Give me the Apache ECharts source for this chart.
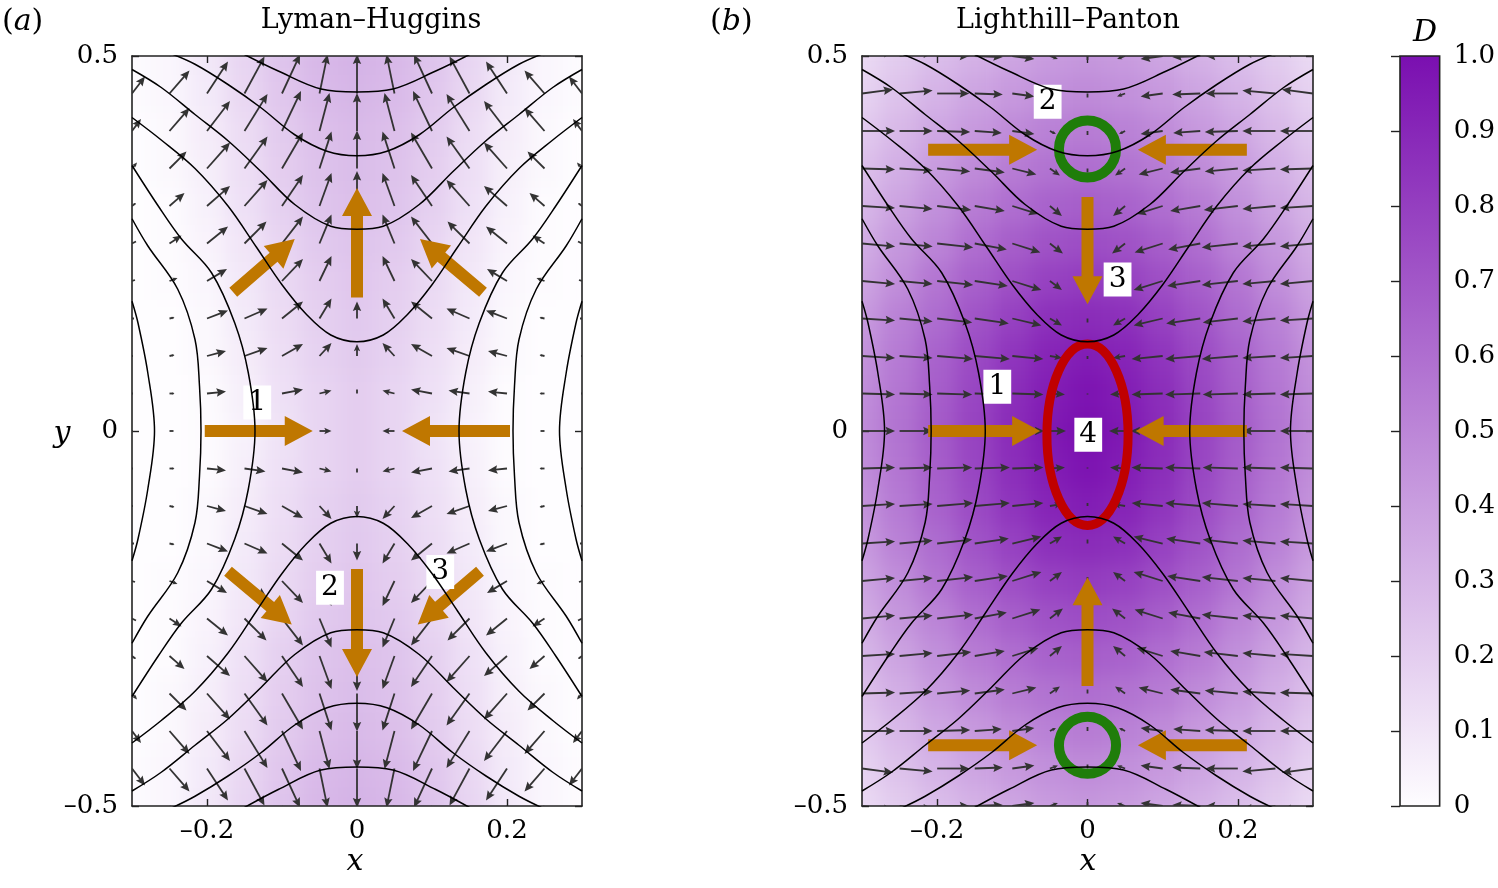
<!DOCTYPE html>
<html><head><meta charset="utf-8">
<script src="https://cdn.jsdelivr.net/npm/echarts@6/dist/echarts.min.js"></script>
<style>
html,body{margin:0;padding:0;background:#fff;width:1498px;height:888px;overflow:hidden;}
.wrap{position:absolute;overflow:hidden;}
.heat{position:absolute;filter:blur(10px);}
#main{position:absolute;left:0;top:0;width:1498px;height:888px;}
</style></head><body>
<div class="wrap" id="wrapA" style="left:132px;top:56px;width:450px;height:750px;"><div class="heat" id="heatA" style="left:-40px;top:-40px;width:530px;height:830px;"></div></div>
<div class="wrap" id="wrapB" style="left:862px;top:56px;width:451px;height:750px;"><div class="heat" id="heatB" style="left:-40px;top:-40px;width:531px;height:830px;"></div></div>
<div id="main"></div>
<script>
// ---------------- data ----------------
const GX = [-0.3,-0.25,-0.2,-0.15,-0.1,-0.05,0,0.05,0.1,0.15,0.2,0.25,0.3];
const GY = [-0.5,-0.45,-0.4,-0.35,-0.3,-0.25,-0.2,-0.15,-0.1,-0.05,0,0.05,0.1,0.15,0.2,0.25,0.3,0.35,0.4,0.45,0.5];
const X_TICKS = [-0.2,0,0.2];
const Y_TICKS = [-0.5,0,0.5];
const CBAR_RANGE = [0,1];

// D field, rows = GY (bottom to top), columns = GX
const D_A = [
[.01,.03,.09,.17,.24,.29,.31,.29,.24,.17,.09,.03,.01],
[.01,.03,.08,.16,.23,.28,.3,.28,.23,.16,.08,.03,.01],
[0,.02,.07,.14,.21,.26,.28,.26,.21,.14,.07,.02,0],
[0,.02,.06,.13,.2,.25,.27,.25,.2,.13,.06,.02,0],
[0,.01,.05,.12,.19,.24,.26,.24,.19,.12,.05,.01,0],
[0,.01,.04,.1,.17,.22,.24,.22,.17,.1,.04,.01,0],
[0,.01,.03,.09,.15,.2,.23,.2,.15,.09,.03,.01,0],
[0,0,.02,.08,.14,.19,.22,.19,.14,.08,.02,0,0],
[0,0,.02,.07,.13,.18,.21,.18,.13,.07,.02,0,0],
[0,0,.01,.06,.12,.17,.2,.17,.12,.06,.01,0,0],
[0,0,.01,.05,.11,.17,.2,.17,.11,.05,.01,0,0],
[0,0,.01,.06,.12,.17,.2,.17,.12,.06,.01,0,0],
[0,0,.02,.07,.13,.18,.21,.18,.13,.07,.02,0,0],
[0,0,.02,.08,.14,.19,.22,.19,.14,.08,.02,0,0],
[0,.01,.03,.09,.15,.2,.23,.2,.15,.09,.03,.01,0],
[0,.01,.04,.1,.17,.22,.24,.22,.17,.1,.04,.01,0],
[0,.01,.05,.12,.19,.24,.26,.24,.19,.12,.05,.01,0],
[0,.02,.06,.13,.2,.25,.27,.25,.2,.13,.06,.02,0],
[0,.02,.07,.14,.21,.26,.28,.26,.21,.14,.07,.02,0],
[.01,.03,.08,.16,.23,.28,.3,.28,.23,.16,.08,.03,.01],
[.01,.03,.09,.17,.24,.29,.31,.29,.24,.17,.09,.03,.01]
];
const D_B = [
[.15,.21,.27,.32,.37,.41,.43,.41,.37,.32,.27,.21,.15],
[.18,.25,.31,.37,.42,.46,.48,.46,.42,.37,.31,.25,.18],
[.22,.29,.36,.42,.48,.52,.54,.52,.48,.42,.36,.29,.22],
[.26,.33,.41,.48,.54,.58,.6,.58,.54,.48,.41,.33,.26],
[.3,.38,.46,.54,.6,.65,.67,.65,.6,.54,.46,.38,.3],
[.34,.43,.51,.6,.67,.72,.74,.72,.67,.6,.51,.43,.34],
[.38,.47,.57,.66,.73,.79,.81,.79,.73,.66,.57,.47,.38],
[.42,.52,.61,.71,.79,.86,.88,.86,.79,.71,.61,.52,.42],
[.45,.55,.65,.75,.84,.91,.94,.91,.84,.75,.65,.55,.45],
[.47,.57,.67,.77,.87,.94,.98,.94,.87,.77,.67,.57,.47],
[.48,.58,.68,.78,.88,.96,1,.96,.88,.78,.68,.58,.48],
[.47,.57,.67,.77,.87,.94,.98,.94,.87,.77,.67,.57,.47],
[.45,.55,.65,.75,.84,.91,.94,.91,.84,.75,.65,.55,.45],
[.42,.52,.61,.71,.79,.86,.88,.86,.79,.71,.61,.52,.42],
[.38,.47,.57,.66,.73,.79,.81,.79,.73,.66,.57,.47,.38],
[.34,.43,.51,.6,.67,.72,.74,.72,.67,.6,.51,.43,.34],
[.3,.38,.46,.54,.6,.65,.67,.65,.6,.54,.46,.38,.3],
[.26,.33,.41,.48,.54,.58,.6,.58,.54,.48,.41,.33,.26],
[.22,.29,.36,.42,.48,.52,.54,.52,.48,.42,.36,.29,.22],
[.18,.25,.31,.37,.42,.46,.48,.46,.42,.37,.31,.25,.18],
[.15,.21,.27,.32,.37,.41,.43,.41,.37,.32,.27,.21,.15]
];

// quiver components (arrow units), rows = GY, columns = GX
const U_A = [
[14,20,21,20,18,8,0,-8,-18,-20,-21,-20,-14],
[13,20,21,20,18,8,0,-8,-18,-20,-21,-20,-13],
[9,20,23,23,19,10,0,-10,-19,-23,-23,-20,-9],
[5,17,23,23,21,12,0,-12,-21,-23,-23,-17,-5],
[4,15,23,23,21,12,0,-12,-21,-23,-23,-15,-4],
[4,12,21,22,21,12,0,-12,-21,-22,-21,-12,-4],
[3,8,20,22,21,12,0,-12,-21,-22,-20,-8,-3],
[2,5,21,23,21,12,0,-12,-21,-23,-21,-5,-2],
[1,5,19,23,21,12,0,-12,-21,-23,-19,-5,-1],
[1,5,19,21,21,12,0,-12,-21,-21,-19,-5,-1],
[1,4,17,20,18,12,0,-12,-18,-20,-17,-4,-1],
[1,5,19,21,21,12,0,-12,-21,-21,-19,-5,-1],
[1,5,19,23,21,12,0,-12,-21,-23,-19,-5,-1],
[2,5,21,23,21,12,0,-12,-21,-23,-21,-5,-2],
[3,8,20,22,21,12,0,-12,-21,-22,-20,-8,-3],
[4,12,21,22,21,12,0,-12,-21,-22,-21,-12,-4],
[4,15,23,23,21,12,0,-12,-21,-23,-23,-15,-4],
[5,17,23,23,21,12,0,-12,-21,-23,-23,-17,-5],
[9,20,23,23,19,10,0,-10,-19,-23,-23,-20,-9],
[13,20,21,20,18,8,0,-8,-18,-20,-21,-20,-13],
[14,20,21,20,18,8,0,-8,-18,-20,-21,-20,-14]
];
const V_A = [
[-20,-26,-33,-38,-40,-40,-40,-40,-40,-38,-33,-26,-20],
[-17,-23,-32,-37,-39,-39,-39,-39,-39,-37,-32,-23,-17],
[-12,-23,-30,-37,-40,-38,-38,-38,-40,-37,-30,-23,-12],
[-6,-17,-26,-32,-36,-37,-38,-37,-36,-32,-26,-17,-6],
[-3,-13,-20,-26,-31,-33,-35,-33,-31,-26,-20,-13,-3],
[-2,-8,-17,-22,-27,-29,-30,-29,-27,-22,-17,-8,-2],
[-1,-3,-12,-16,-22,-25,-24,-25,-22,-16,-12,-3,-1],
[0,-1,-8,-10,-17,-20,-17,-20,-17,-10,-8,-1,0],
[0,-1,-5,-8,-12,-13,-12,-13,-12,-8,-5,-1,0],
[0,0,-2,-3,-4,-3,-4,-3,-4,-3,-2,0,0],
[0,0,0,0,0,0,0,0,0,0,0,0,0],
[0,0,2,3,4,3,4,3,4,3,2,0,0],
[0,1,5,8,12,13,12,13,12,8,5,1,0],
[0,1,8,10,17,20,17,20,17,10,8,1,0],
[1,3,12,16,22,25,24,25,22,16,12,3,1],
[2,8,17,22,27,29,30,29,27,22,17,8,2],
[3,13,20,26,31,33,35,33,31,26,20,13,3],
[6,17,26,32,36,37,38,37,36,32,26,17,6],
[12,23,30,37,40,38,38,38,40,37,30,23,12],
[17,23,32,37,39,39,39,39,39,37,32,23,17],
[20,26,33,38,40,40,40,40,40,38,33,26,20]
];
const U_B = [
[31,33,32,28,22,8,0,-8,-22,-28,-32,-33,-31],
[31,33,32,28,22,8,0,-8,-22,-28,-32,-33,-31],
[33,33,33,27,22,6,0,-6,-22,-27,-33,-33,-33],
[33,33,33,30,24,10,0,-10,-24,-30,-33,-33,-33],
[33,33,34,30,26,12,0,-12,-26,-30,-34,-33,-33],
[33,33,36,32,28,13,0,-13,-28,-32,-36,-33,-33],
[33,33,36,33,29,12,0,-12,-29,-33,-36,-33,-33],
[33,33,35,34,29,12,0,-12,-29,-34,-35,-33,-33],
[33,33,36,35,31,12,0,-12,-31,-35,-36,-33,-33],
[33,33,35,35,31,15,0,-15,-31,-35,-35,-33,-33],
[33,33,35,36,32,16,0,-16,-32,-36,-35,-33,-33],
[33,33,35,35,31,15,0,-15,-31,-35,-35,-33,-33],
[33,33,36,35,31,12,0,-12,-31,-35,-36,-33,-33],
[33,33,35,34,29,12,0,-12,-29,-34,-35,-33,-33],
[33,33,36,33,29,12,0,-12,-29,-33,-36,-33,-33],
[33,33,36,32,28,13,0,-13,-28,-32,-36,-33,-33],
[33,33,34,30,26,12,0,-12,-26,-30,-34,-33,-33],
[33,33,33,30,24,10,0,-10,-24,-30,-33,-33,-33],
[33,33,33,27,22,6,0,-6,-22,-27,-33,-33,-33],
[31,33,32,28,22,8,0,-8,-22,-28,-32,-33,-31],
[31,33,32,28,22,8,0,-8,-22,-28,-32,-33,-31]
];
const V_B = [
[-4,-3,0,1,3,3,4,3,3,1,0,-3,-4],
[-4,-3,0,1,3,3,4,3,3,1,0,-3,-4],
[0,0,1,2,3,3,4,3,3,2,1,0,0],
[1,2,3,4,6,7,4,7,6,4,3,2,1],
[2,3,4,5,8,10,4,10,8,5,4,3,2],
[3,3,4,6,9,10,4,10,9,6,4,3,3],
[3,3,4,5,9,9,4,9,9,5,4,3,3],
[2,3,4,5,7,7,4,7,7,5,4,3,2],
[2,2,3,3,3,2,3,2,3,3,3,2,2],
[1,1,1,1,1,1,1,1,1,1,1,1,1],
[0,0,0,0,0,0,0,0,0,0,0,0,0],
[-1,-1,-1,-1,-1,-1,-1,-1,-1,-1,-1,-1,-1],
[-2,-2,-3,-3,-3,-2,-3,-2,-3,-3,-3,-2,-2],
[-2,-3,-4,-5,-7,-7,-4,-7,-7,-5,-4,-3,-2],
[-3,-3,-4,-5,-9,-9,-4,-9,-9,-5,-4,-3,-3],
[-3,-3,-4,-6,-9,-10,-4,-10,-9,-6,-4,-3,-3],
[-2,-3,-4,-5,-8,-10,-4,-10,-8,-5,-4,-3,-2],
[-1,-2,-3,-4,-6,-7,-4,-7,-6,-4,-3,-2,-1],
[0,0,-1,-2,-3,-3,-4,-3,-3,-2,-1,0,0],
[4,3,0,-1,-3,-3,-4,-3,-3,-1,0,3,4],
[4,3,0,-1,-3,-3,-4,-3,-3,-1,0,3,4]
];

// contour lines (x, y)
const A_T1 = [[-0.15,0.502],[-0.105,0.48],[-0.048,0.456],[0,0.452],[0.048,0.456],[0.105,0.48],[0.15,0.502]];
const A_T2 = [[-0.25,0.504],[-0.216,0.489],[-0.172,0.462],[-0.128,0.431],[-0.083,0.395],[-0.04,0.373],[0,0.367],[0.04,0.373],[0.083,0.395],[0.128,0.431],[0.172,0.462],[0.216,0.489],[0.25,0.504]];
const A_T3 = [[-0.3,0.482],[-0.261,0.458],[-0.216,0.422],[-0.172,0.387],[-0.128,0.346],[-0.083,0.302],[-0.035,0.273],[0,0.269],[0.035,0.273],[0.083,0.302],[0.128,0.346],[0.172,0.387],[0.216,0.422],[0.261,0.458],[0.3,0.482]];
const A_T4 = [[-0.3,0.418],[-0.261,0.388],[-0.216,0.35],[-0.172,0.3],[-0.134,0.245],[-0.1,0.195],[-0.067,0.155],[-0.035,0.128],[0,0.119],[0.035,0.128],[0.067,0.155],[0.1,0.195],[0.134,0.245],[0.172,0.3],[0.216,0.35],[0.261,0.388],[0.3,0.418]];
const A_B1 = [[-0.15,-0.502],[-0.105,-0.478],[-0.048,-0.452],[0,-0.448],[0.048,-0.452],[0.105,-0.478],[0.15,-0.502]];
const A_B2 = [[-0.25,-0.504],[-0.216,-0.487],[-0.172,-0.46],[-0.128,-0.429],[-0.083,-0.392],[-0.04,-0.369],[0,-0.363],[0.04,-0.369],[0.083,-0.392],[0.128,-0.429],[0.172,-0.46],[0.216,-0.487],[0.25,-0.504]];
const A_B3 = [[-0.3,-0.48],[-0.261,-0.455],[-0.216,-0.419],[-0.172,-0.384],[-0.128,-0.342],[-0.083,-0.298],[-0.035,-0.269],[0,-0.265],[0.035,-0.269],[0.083,-0.298],[0.128,-0.342],[0.172,-0.384],[0.216,-0.419],[0.261,-0.455],[0.3,-0.48]];
const A_B4 = [[-0.3,-0.416],[-0.261,-0.386],[-0.216,-0.347],[-0.172,-0.296],[-0.134,-0.24],[-0.1,-0.19],[-0.067,-0.15],[-0.035,-0.123],[0,-0.114],[0.035,-0.123],[0.067,-0.15],[0.1,-0.19],[0.134,-0.24],[0.172,-0.296],[0.216,-0.347],[0.261,-0.386],[0.3,-0.416]];
const A_L1 = [[-0.3,0.354],[-0.265,0.3],[-0.234,0.256],[-0.194,0.211],[-0.163,0.144],[-0.145,0.078],[-0.136,0],[-0.145,-0.078],[-0.163,-0.144],[-0.194,-0.211],[-0.234,-0.256],[-0.265,-0.3],[-0.3,-0.354]];
const A_L2 = [[-0.3,0.283],[-0.279,0.247],[-0.239,0.189],[-0.216,0.122],[-0.21,0.06],[-0.208,0],[-0.21,-0.06],[-0.216,-0.122],[-0.239,-0.189],[-0.279,-0.247],[-0.3,-0.283]];
const A_L3 = [[-0.3,0.173],[-0.292,0.144],[-0.279,0.078],[-0.27,0],[-0.279,-0.078],[-0.292,-0.144],[-0.3,-0.173]];
const A_R1 = [[0.3,0.354],[0.265,0.3],[0.234,0.256],[0.194,0.211],[0.163,0.144],[0.145,0.078],[0.136,0],[0.145,-0.078],[0.163,-0.144],[0.194,-0.211],[0.234,-0.256],[0.265,-0.3],[0.3,-0.354]];
const A_R2 = [[0.3,0.283],[0.279,0.247],[0.239,0.189],[0.216,0.122],[0.21,0.06],[0.208,0],[0.21,-0.06],[0.216,-0.122],[0.239,-0.189],[0.279,-0.247],[0.3,-0.283]];
const A_R3 = [[0.3,0.173],[0.292,0.144],[0.279,0.078],[0.27,0],[0.279,-0.078],[0.292,-0.144],[0.3,-0.173]];
const CONTOURS_A = [A_T1,A_T2,A_T3,A_T4,A_B1,A_B2,A_B3,A_B4,A_L1,A_L2,A_L3,A_R1,A_R2,A_R3];
const CONTOURS_B = [A_T1,A_T2,A_T3,A_T4,A_B1,A_B2,A_B3,A_B4,A_L1,A_L2,A_L3,A_R1,A_R2,A_R3];

// big orange arrows [x0,y0,x1,y1] (tail -> head)
const BIG_A = [[-0.203,0,-0.059,0],[0.204,0,0.06,0],[0,0.178,0,0.324],[-0.165,0.185,-0.083,0.256],[0.168,0.185,0.084,0.256],[0,-0.184,0,-0.328],[-0.172,-0.187,-0.087,-0.258],[0.164,-0.187,0.081,-0.258]];
const BIG_B = [[-0.212,0.375,-0.067,0.375],[0.212,0.375,0.067,0.375],[-0.212,0,-0.063,0],[0.212,0,0.064,0],[-0.212,-0.419,-0.067,-0.419],[0.212,-0.419,0.067,-0.419],[0,0.312,0,0.169],[0,-0.34,0,-0.195]];
// rings [x, y, rx, ry]
const RINGS_B_GREEN = [[0,0.376,0.038,0.038],[0,-0.419,0.038,0.038]];
const RINGS_B_RED = [[0,-0.005,0.054,0.121]];
// boxed numbers [x, y, label]
const LABELS_A = [[-0.133,0.038,'1'],[-0.036,-0.209,'2'],[0.111,-0.188,'3']];
const LABELS_B = [[-0.053,0.439,'2'],[0.04,0.202,'3'],[-0.12,0.059,'1'],[0.001,-0.005,'4']];

// ---------------- rendering ----------------
const CMAP = ['#fefdff','#7a0fb0'];
const FONT = 'DejaVu Serif';
const QS = 1/750; // quiver scale: data units per arrow unit

function heatOption(D, w){
  const cellW = w/12, cellH = 750/20;
  const data = [];
  for (let j=0;j<GY.length;j++) for (let i=0;i<GX.length;i++) data.push([i,j,D[j][i]]);
  return {
    animation:false,
    grid:{left:40-cellW/2, top:40-cellH/2, width:w+cellW, height:750+cellH},
    xAxis:{type:'category', data:GX.map(String), show:false},
    yAxis:{type:'category', data:GY.map(String), show:false},
    visualMap:{show:false, min:CBAR_RANGE[0], max:CBAR_RANGE[1], inRange:{color:CMAP}},
    series:[{type:'heatmap', data:data, itemStyle:{borderWidth:0}}]
  };
}
echarts.init(document.getElementById('heatA')).setOption(heatOption(D_A,450));
echarts.init(document.getElementById('heatB')).setOption(heatOption(D_B,451));

function quiverData(U,V){
  const out=[];
  for (let j=0;j<GY.length;j++) for (let i=0;i<GX.length;i++) out.push([GX[i],GY[j],U[j][i],V[j][i]]);
  return out;
}
function quiverItem(params, api){
  const x=api.value(0), y=api.value(1), u=api.value(2), v=api.value(3);
  if (u===0 && v===0) return null;
  const p0=api.coord([x,y]);
  const p1=api.coord([x+u*QS, y+v*QS]);
  const dx=p1[0]-p0[0], dy=p1[1]-p0[1];
  const L=Math.hypot(dx,dy);
  if (L<0.8) return null;
  const ux=dx/L, uy=dy/L;
  const col='#333333';
  if (L<5) return {type:'line', shape:{x1:p0[0],y1:p0[1],x2:p1[0],y2:p1[1]}, style:{stroke:col,lineWidth:1.8}};
  let hl=9.5, hw=4.2;
  if (L<16){ hl=L*0.6; hw=hl*0.44; }
  const bx=p1[0]-ux*hl, by=p1[1]-uy*hl;
  return {type:'group', children:[
    {type:'line', shape:{x1:p0[0],y1:p0[1],x2:bx+ux*2,y2:by+uy*2}, style:{stroke:col,lineWidth:1.8}},
    {type:'polygon', shape:{points:[[p1[0],p1[1]],[bx-uy*hw,by+ux*hw],[bx+ux*1.5,by+uy*1.5],[bx+uy*hw,by-ux*hw]]}, style:{fill:col}}
  ]};
}
function bigArrowItem(params, api){
  const p0=api.coord([api.value(0),api.value(1)]);
  const p1=api.coord([api.value(2),api.value(3)]);
  const dx=p1[0]-p0[0], dy=p1[1]-p0[1];
  const L=Math.hypot(dx,dy), ux=dx/L, uy=dy/L, nx=-uy, ny=ux;
  const hl=28, hw=15, sw=6;
  const bx=p1[0]-ux*hl, by=p1[1]-uy*hl;
  return {type:'polygon', shape:{points:[
    [p0[0]+nx*sw,p0[1]+ny*sw],[bx+nx*sw,by+ny*sw],[bx+nx*hw,by+ny*hw],[p1[0],p1[1]],
    [bx-nx*hw,by-ny*hw],[bx-nx*sw,by-ny*sw],[p0[0]-nx*sw,p0[1]-ny*sw]]},
    style:{fill:'#bf7700'}};
}
function ringItem(color, lw){
  return function(params, api){
    const c=api.coord([api.value(0),api.value(1)]);
    const s=api.size([api.value(2),api.value(3)]);
    return {type:'ellipse', shape:{cx:c[0],cy:c[1],rx:s[0],ry:s[1]}, style:{fill:null,stroke:color,lineWidth:lw}};
  };
}
function labelItem(params, api){
  const c=api.coord([api.value(0),api.value(1)]);
  return {type:'text', x:c[0], y:c[1], style:{text:String(api.value(2)), font:'28px '+FONT, fill:'#000',
    align:'center', verticalAlign:'middle', backgroundColor:'#fff', padding:[4,5,2,5]}};
}
function xLabel(v){
  if (Math.abs(v)<1e-9) return '0';
  if (Math.abs(Math.abs(v)-0.2)>1e-9) return '';
  return (v<0?'\u2013':'')+Math.abs(v).toFixed(1);
}
function yLabel(v){
  if (Math.abs(v)<1e-9) return '0';
  return (v<0?'\u2013':'')+Math.abs(v).toFixed(1);
}
const AX_LINE = {show:true, onZero:false, lineStyle:{color:'#222', width:1.6}};
function xAxes(gi){
  return [
    {gridIndex:gi, type:'value', min:-0.3, max:0.3, interval:0.1, position:'bottom', axisLine:AX_LINE,
     axisTick:{show:true, inside:true, length:7, customValues:X_TICKS, lineStyle:{color:'#222',width:1.4}},
     axisLabel:{customValues:X_TICKS, formatter:xLabel, fontFamily:FONT, fontSize:26, color:'#000', margin:12},
     splitLine:{show:false}},
    {gridIndex:gi, type:'value', min:-0.3, max:0.3, interval:0.1, position:'top', axisLine:AX_LINE,
     axisTick:{show:true, inside:true, length:7, customValues:X_TICKS, lineStyle:{color:'#222',width:1.4}},
     axisLabel:{show:false, customValues:X_TICKS}, splitLine:{show:false}}
  ];
}
function yAxes(gi){
  return [
    {gridIndex:gi, type:'value', min:-0.5, max:0.5, interval:0.5, position:'left', axisLine:AX_LINE,
     axisTick:{show:true, inside:true, length:7, lineStyle:{color:'#222',width:1.4}},
     axisLabel:{formatter:yLabel, fontFamily:FONT, fontSize:26, color:'#000', margin:14},
     splitLine:{show:false}},
    {gridIndex:gi, type:'value', min:-0.5, max:0.5, interval:0.5, position:'right', axisLine:AX_LINE,
     axisTick:{show:true, inside:true, length:7, lineStyle:{color:'#222',width:1.4}},
     axisLabel:{show:false}, splitLine:{show:false}}
  ];
}
const series=[];
function addPanel(gi, contours, U, V, big){
  const xi=gi*2, yi=gi*2;
  contours.forEach(c=>series.push({type:'line', xAxisIndex:xi, yAxisIndex:yi, data:c, showSymbol:false, symbol:'none',
    smooth:0.35, lineStyle:{color:'#000', width:1.5}, clip:true, silent:true}));
  series.push({type:'custom', xAxisIndex:xi, yAxisIndex:yi, data:quiverData(U,V), renderItem:quiverItem, clip:true, silent:true});
  series.push({type:'custom', xAxisIndex:xi, yAxisIndex:yi, data:big, renderItem:bigArrowItem, clip:true, silent:true});
}
addPanel(0, CONTOURS_A, U_A, V_A, BIG_A);
addPanel(1, CONTOURS_B, U_B, V_B, BIG_B);
series.push({type:'custom', xAxisIndex:2, yAxisIndex:2, data:RINGS_B_GREEN, renderItem:ringItem('#1f7d0a',10), silent:true});
series.push({type:'custom', xAxisIndex:2, yAxisIndex:2, data:RINGS_B_RED, renderItem:ringItem('#c00000',9), silent:true});
series.push({type:'custom', xAxisIndex:0, yAxisIndex:0, data:LABELS_A, renderItem:labelItem, silent:true});
series.push({type:'custom', xAxisIndex:2, yAxisIndex:2, data:LABELS_B, renderItem:labelItem, silent:true});
// colour bar
series.push({type:'custom', xAxisIndex:4, yAxisIndex:4, data:[[CBAR_RANGE[0],CBAR_RANGE[0],CBAR_RANGE[1],CBAR_RANGE[1]]], silent:true,
  renderItem:function(params, api){
    const p0=api.coord([api.value(0),api.value(1)]), p1=api.coord([api.value(2),api.value(3)]);
    return {type:'rect', shape:{x:p0[0],y:p1[1],width:p1[0]-p0[0],height:p0[1]-p1[1]},
      style:{fill:new echarts.graphic.LinearGradient(0,1,0,0,[{offset:0,color:CMAP[0]},{offset:1,color:CMAP[1]}]), stroke:'#222', lineWidth:1.6}};
  }});

const option = {
  animation:false,
  backgroundColor:'transparent',
  textStyle:{fontFamily:FONT},
  grid:[
    {left:132, top:56, width:450, height:750},
    {left:862, top:56, width:451, height:750},
    {left:1400, top:56, width:40, height:750}
  ],
  xAxis:[...xAxes(0), ...xAxes(1),
    {gridIndex:2, type:'value', min:CBAR_RANGE[0], max:CBAR_RANGE[1], show:false}],
  yAxis:[...yAxes(0), ...yAxes(1),
    {gridIndex:2, type:'value', min:CBAR_RANGE[0], max:CBAR_RANGE[1], interval:0.1, position:'right',
     axisLine:{show:false}, axisTick:{show:true, inside:true, length:9, lineStyle:{color:'#222',width:1.4}},
     axisLabel:{formatter:v=>Math.abs(v)<1e-9?'0':v.toFixed(1), fontFamily:FONT, fontSize:26, color:'#000', margin:14},
     splitLine:{show:false}}],
  graphic:[
    {type:'text', x:371, y:21, style:{text:'Lyman\u2013Huggins', font:'27px '+FONT, fill:'#000', align:'center', verticalAlign:'middle'}},
    {type:'text', x:1068, y:21, style:{text:'Lighthill\u2013Panton', font:'27px '+FONT, fill:'#000', align:'center', verticalAlign:'middle'}},
    {type:'text', x:2, y:22, style:{text:'({i|a})', font:'30px '+FONT, fill:'#000', verticalAlign:'middle', rich:{i:{fontStyle:'italic', fontFamily:FONT, fontSize:30}}}},
    {type:'text', x:710, y:22, style:{text:'({i|b})', font:'30px '+FONT, fill:'#000', verticalAlign:'middle', rich:{i:{fontStyle:'italic', fontFamily:FONT, fontSize:30}}}},
    {type:'text', x:62, y:434, style:{text:'y', font:'italic 30px '+FONT, fill:'#000', align:'center', verticalAlign:'middle'}},
    {type:'text', x:355, y:862, style:{text:'x', font:'italic 30px '+FONT, fill:'#000', align:'center', verticalAlign:'middle'}},
    {type:'text', x:1088, y:862, style:{text:'x', font:'italic 30px '+FONT, fill:'#000', align:'center', verticalAlign:'middle'}},
    {type:'text', x:1425, y:33, style:{text:'D', font:'italic 30px '+FONT, fill:'#000', align:'center', verticalAlign:'middle'}}
  ],
  series:series
};
echarts.init(document.getElementById('main')).setOption(option);
</script>
</body></html>
